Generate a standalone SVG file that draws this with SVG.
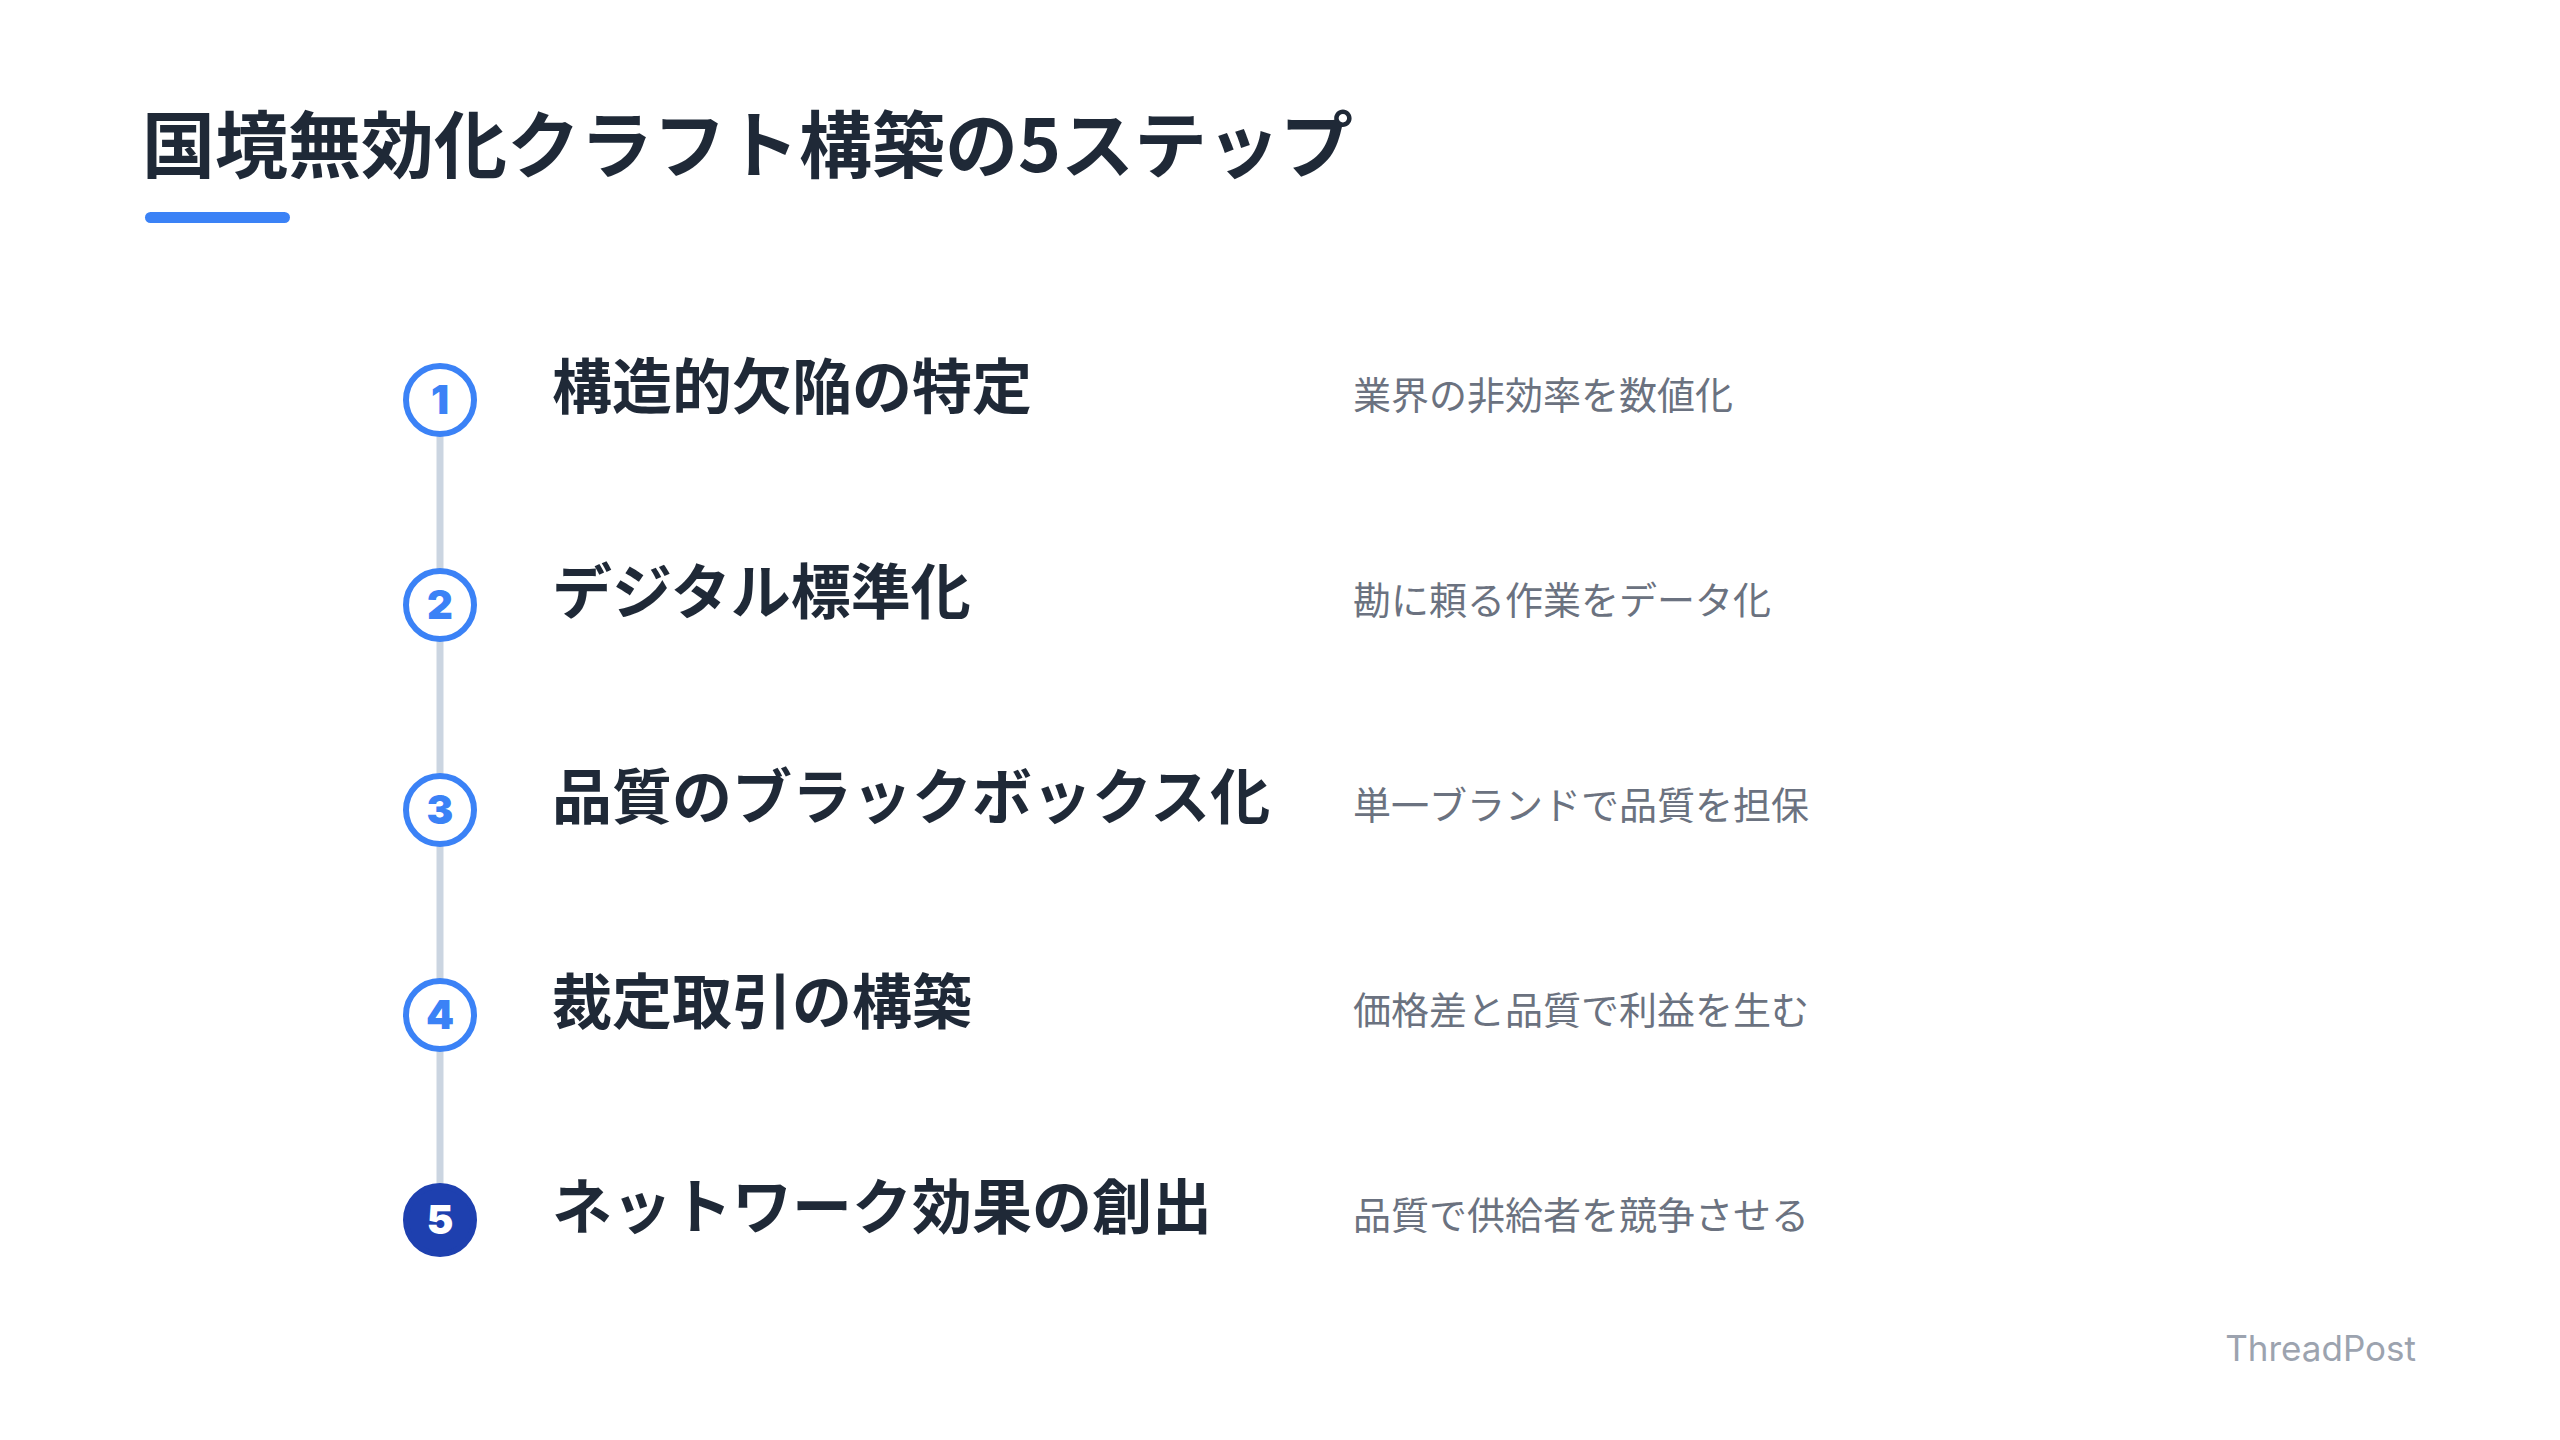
<svg xmlns="http://www.w3.org/2000/svg" width="2560" height="1440" viewBox="0 0 2560 1440">
<style>
.title{font-family:"Noto Sans CJK JP","Noto Sans CJK SC",sans-serif;font-weight:700;font-size:73px;fill:#1f2937}
.step{font-family:"Noto Sans CJK JP","Noto Sans CJK SC",sans-serif;font-weight:700;font-size:60px;fill:#1f2937}
.desc{font-family:"Noto Sans CJK JP","Noto Sans CJK SC",sans-serif;font-weight:400;font-size:38px;fill:#6b7280}
.ring{fill:#ffffff;stroke:#3b82f6;stroke-width:6}
.ringf{fill:#1e40af;stroke:#1e40af;stroke-width:6}
.num{font-family:Inter,"Liberation Sans",sans-serif;font-weight:900;font-size:40px;text-anchor:middle;fill:#3b82f6}
.numf{fill:#ffffff}
.brand{font-family:Inter,"Liberation Sans",sans-serif;font-size:35px;fill:#9ca3af;text-anchor:end}
</style>
<rect width="2560" height="1440" fill="#ffffff"/>
<g id="header">
<text class="title" x="142" y="172">国境無効化クラフト構築の5ステップ</text>
<rect x="145" y="212" width="145" height="11" rx="5.5" fill="#3b82f6"/>
</g>
<g id="connectors">
<line x1="440" y1="400" x2="440" y2="1220" stroke="#cbd5e1" stroke-width="7"/>
</g>
<g id="step1">
<circle class="ring" cx="440" cy="400" r="34"/>
<text class="num" x="440" y="414">1</text>
<text class="step" x="552" y="409">構造的欠陥の特定</text>
<text class="desc" x="1353" y="409">業界の非効率を数値化</text>
</g>
<g id="step2">
<circle class="ring" cx="440" cy="605" r="34"/>
<text class="num" x="440" y="619">2</text>
<text class="step" x="552" y="614">デジタル標準化</text>
<text class="desc" x="1353" y="614">勘に頼る作業をデータ化</text>
</g>
<g id="step3">
<circle class="ring" cx="440" cy="810" r="34"/>
<text class="num" x="440" y="824">3</text>
<text class="step" x="552" y="819">品質のブラックボックス化</text>
<text class="desc" x="1353" y="819">単一ブランドで品質を担保</text>
</g>
<g id="step4">
<circle class="ring" cx="440" cy="1015" r="34"/>
<text class="num" x="440" y="1029">4</text>
<text class="step" x="552" y="1024">裁定取引の構築</text>
<text class="desc" x="1353" y="1024">価格差と品質で利益を生む</text>
</g>
<g id="step5">
<circle class="ringf" cx="440" cy="1220" r="34"/>
<text class="num numf" x="440" y="1234">5</text>
<text class="step" x="552" y="1229">ネットワーク効果の創出</text>
<text class="desc" x="1353" y="1229">品質で供給者を競争させる</text>
</g>
<g id="footer">
<text class="brand" x="2416" y="1361">ThreadPost</text>
</g>
</svg>
